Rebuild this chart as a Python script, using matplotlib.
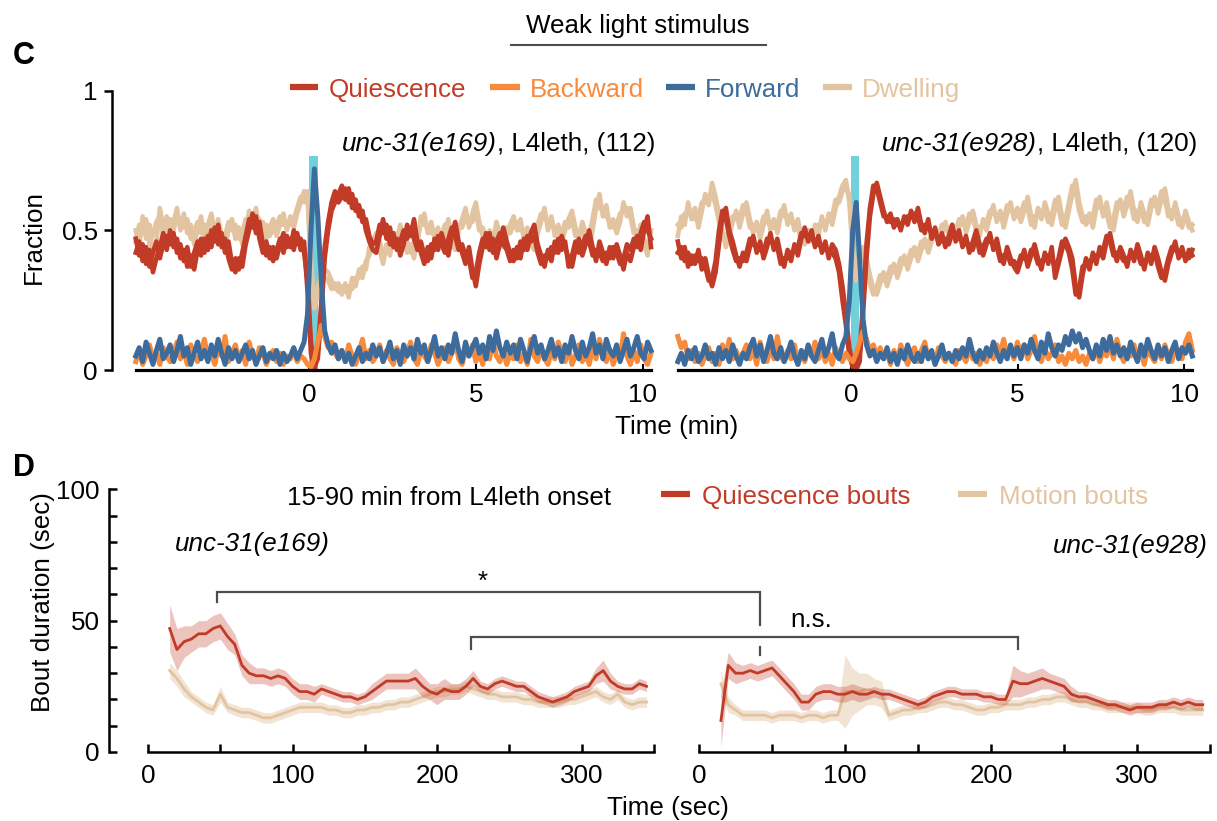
import numpy as np
import matplotlib
matplotlib.use("Agg")
import matplotlib.pyplot as plt
from matplotlib.lines import Line2D

plt.rcParams['font.family'] = ['Liberation Sans', 'DejaVu Sans']
FS = 18.7
W, H = 1217, 821

RED = '#c13b27'
ORANGE = '#f78a3b'
BLUE = '#3c6b9c'
TAN = '#e3c4a1'
CYAN = '#70d0dc'
GRAY = '#4d4d4d'

# ---------------- Panel C data (percent of animals in each state) ----------------
t_start_min, t_end_min, n_samples = -5.2, 10.25, 151
stim_on_min, stim_off_min = 0.0, 0.25
time_min = np.linspace(t_start_min, t_end_min, n_samples)

quies_e169 = [
    47, 41, 45, 38, 43, 35, 40, 44, 49, 43,
    50, 44, 47, 40, 43, 37, 41, 36, 43, 47,
    42, 48, 44, 51, 45, 49, 42, 46, 38, 35,
    40, 37, 45, 50, 56, 49, 53, 45, 41, 44,
    39, 43, 47, 42, 48, 44, 50, 45, 47, 42,
    32, 10, 1, 4, 20, 40, 50, 57, 60, 63,
    66, 61, 65, 58, 61, 55, 57, 50, 46, 43,
    42, 48, 54, 47, 51, 44, 47, 41, 45, 52,
    48, 54, 46, 42, 38, 44, 40, 47, 43, 49,
    45, 41, 48, 53, 46, 42, 38, 44, 36, 30,
    38, 44, 49, 43, 47, 40, 45, 51, 46, 42,
    39, 44, 40, 47, 43, 49, 52, 45, 41, 37,
    43, 39, 46, 42, 48, 44, 40, 37, 43, 47,
    41, 45, 50, 44, 39, 46, 42, 38, 44, 40,
    45, 41, 36, 42, 39, 44, 48, 43, 50, 55,
    44]
quies_e169_rep2 = [
    42, 46, 39, 44, 37, 42, 46, 40, 45, 48,
    45, 49, 42, 45, 39, 44, 37, 42, 46, 41,
    47, 43, 50, 46, 52, 44, 47, 40, 36, 40,
    36, 42, 48, 54, 51, 55, 47, 42, 46, 40,
    44, 40, 45, 49, 44, 47, 43, 49, 43, 46,
    28, 6, 0, 7, 24, 44, 53, 60, 64, 60,
    62, 65, 60, 63, 57, 59, 53, 54, 48, 45,
    46, 52, 49, 52, 45, 49, 43, 46, 50, 47,
    51, 47, 43, 46, 41, 39, 45, 43, 48, 45,
    42, 47, 51, 48, 43, 45, 41, 40, 33, 35,
    42, 47, 44, 49, 42, 46, 49, 45, 43, 39,
    43, 40, 46, 43, 48, 46, 48, 42, 38, 41,
    40, 44, 42, 47, 43, 46, 37, 41, 46, 42,
    45, 48, 46, 41, 43, 42, 39, 42, 40, 44,
    42, 38, 40, 45, 43, 47, 44, 49, 53, 50,
    47]
dwell_e169 = [
    50, 44, 55, 47, 52, 40, 46, 58, 51, 55,
    48, 53, 58, 50, 56, 49, 52, 45, 50, 55,
    47, 52, 56, 49, 54, 48, 44, 50, 54, 47,
    51, 45, 50, 57, 52, 58, 50, 53, 47, 51,
    54, 48, 52, 56, 50, 55, 51, 56, 60, 64,
    62, 36, 24, 30, 34, 36, 35, 32, 29, 31,
    27, 31, 26, 33, 30, 36, 33, 39, 41, 46,
    49, 43, 38, 45, 41, 48, 46, 52, 47, 42,
    45, 40, 48, 52, 56, 49, 53, 47, 51, 45,
    49, 54, 47, 43, 50, 54, 58, 51, 56, 60,
    53, 48, 44, 50, 46, 53, 49, 44, 48, 52,
    55, 50, 54, 47, 51, 45, 43, 49, 53, 58,
    50, 55, 48, 52, 46, 50, 54, 57, 51, 47,
    53, 49, 45, 50, 58, 63, 55, 59, 51, 54,
    49, 53, 60, 55, 58, 51, 47, 52, 45, 41,
    50]
dwell_e169_rep2 = [
    46, 52, 49, 54, 45, 49, 53, 55, 48, 52,
    54, 50, 55, 53, 51, 54, 47, 50, 53, 49,
    52, 49, 53, 52, 50, 45, 48, 53, 50, 52,
    47, 49, 54, 53, 56, 53, 54, 49, 52, 48,
    50, 52, 55, 52, 53, 52, 54, 58, 62, 60,
    64, 40, 22, 27, 36, 33, 32, 29, 31, 28,
    30, 28, 30, 29, 33, 33, 37, 36, 44, 43,
    45, 46, 42, 42, 45, 44, 49, 48, 44, 46,
    42, 46, 44, 55, 52, 51, 49, 50, 48, 48,
    52, 50, 44, 47, 52, 51, 55, 54, 53, 57,
    50, 51, 47, 47, 49, 50, 46, 47, 51, 49,
    52, 53, 50, 50, 48, 47, 46, 52, 56, 55,
    53, 52, 51, 49, 49, 53, 51, 54, 48, 50,
    50, 46, 48, 54, 61, 58, 57, 55, 53, 51,
    52, 56, 57, 58, 55, 49, 50, 48, 47, 44,
    47]
fwd_e169 = [
    5, 8, 3, 10, 6, 2, 7, 11, 4, 6,
    9, 3, 7, 12, 5, 8, 2, 6, 10, 4,
    7, 3, 9, 5, 11, 6, 2, 8, 4, 7,
    3, 6, 9, 4, 7, 2, 5, 8, 3, 6,
    4, 7, 2, 6, 3, 5, 8, 4, 7, 10,
    20, 50, 72, 55, 32, 14, 9, 6, 9, 4,
    7, 3, 6, 2, 5, 8, 3, 6, 4, 9,
    5, 8, 3, 6, 10, 4, 7, 2, 9, 5,
    8, 4, 11, 6, 9, 3, 7, 12, 5, 8,
    4, 9, 6, 13, 7, 3, 10, 5, 8, 11,
    6, 9, 4, 12, 7, 14, 8, 5, 10, 6,
    9, 4, 11, 7, 3, 8, 12, 6, 9, 4,
    7, 11, 5, 8, 3, 9, 6, 12, 7, 4,
    10, 5, 8, 13, 6, 9, 4, 11, 7, 5,
    9, 3, 7, 11, 5, 8, 12, 6, 4, 10,
    7]
bwd_e169 = [
    3, 7, 2, 5, 9, 4, 6, 2, 8, 5,
    3, 6, 10, 4, 7, 2, 9, 5, 3, 7,
    11, 4, 6, 2, 8, 5, 12, 3, 6, 9,
    4, 7, 2, 10, 5, 3, 8, 6, 2, 5,
    7, 3, 6, 2, 5, 4, 7, 3, 5, 4,
    2, 1, 4, 10, 16, 12, 8, 10, 6, 4,
    7, 3, 9, 5, 2, 6, 11, 4, 7, 3,
    5, 9, 3, 7, 4, 2, 8, 5, 3, 6,
    10, 4, 2, 7, 5, 3, 9, 6, 2, 5,
    8, 3, 6, 11, 4, 2, 7, 5, 9, 3,
    6, 2, 8, 4, 10, 5, 3, 7, 2, 6,
    4, 9, 3, 6, 2, 11, 5, 3, 8, 4,
    2, 7, 4, 10, 6, 3, 8, 2, 5, 9,
    3, 6, 2, 8, 4, 11, 5, 3, 7, 2,
    6, 4, 13, 5, 2, 7, 3, 9, 4, 2,
    6]

quies_e928 = [
    46, 40, 44, 37, 41, 38, 43, 36, 40, 34,
    30, 35, 45, 55, 58, 50, 46, 41, 37, 42,
    39, 44, 48, 42, 46, 40, 44, 49, 43, 47,
    41, 37, 43, 39, 45, 41, 47, 51, 46, 50,
    44, 48, 42, 46, 40, 45, 43, 38, 30, 20,
    8, 2, 0, 3, 20, 40, 55, 63, 67, 62,
    57, 53, 56, 51, 54, 50, 55, 52, 57, 53,
    58, 52, 49, 54, 47, 51, 45, 49, 44, 48,
    52, 46, 50, 44, 48, 42, 46, 50, 45, 41,
    45, 49, 43, 47, 41, 38, 44, 40, 37, 35,
    39, 43, 37, 41, 45, 40, 36, 42, 38, 44,
    33, 38, 43, 47, 44, 40, 30, 26, 34, 40,
    36, 42, 38, 44, 40, 46, 49, 43, 39, 44,
    41, 37, 43, 39, 45, 41, 36, 42, 38, 44,
    40, 35, 32, 38, 42, 46, 40, 44, 39, 43,
    41]
quies_e928_rep2 = [
    42, 44, 39, 42, 38, 41, 39, 40, 37, 32,
    33, 39, 50, 57, 54, 48, 43, 39, 40, 39,
    42, 47, 45, 44, 43, 42, 47, 46, 45, 44,
    38, 40, 40, 42, 43, 44, 49, 48, 48, 47,
    46, 45, 44, 43, 43, 42, 40, 35, 25, 16,
    5, 1, 1, 6, 24, 45, 58, 66, 65, 60,
    55, 55, 53, 54, 52, 52, 53, 55, 55, 56,
    55, 50, 52, 51, 49, 48, 47, 46, 47, 45,
    49, 49, 47, 46, 45, 45, 43, 48, 42, 44,
    47, 46, 45, 44, 39, 41, 42, 38, 39, 37,
    41, 40, 39, 43, 42, 38, 39, 40, 41, 41,
    36, 40, 46, 45, 42, 36, 27, 29, 37, 38,
    39, 40, 41, 41, 43, 48, 46, 41, 42, 41,
    39, 40, 41, 42, 42, 38, 39, 40, 41, 42,
    37, 33, 35, 40, 44, 43, 42, 41, 41, 40,
    43]
dwell_e928 = [
    48, 55, 52, 60, 54, 58, 51, 57, 63, 59,
    67, 62, 56, 50, 44, 48, 53, 57, 51, 56,
    60, 54, 49, 53, 47, 52, 57, 50, 54, 49,
    55, 59, 52, 56, 50, 54, 48, 45, 50, 46,
    52, 48, 55, 50, 56, 52, 58, 62, 66, 68,
    60, 42, 32, 40, 44, 40, 34, 29, 27, 31,
    35, 30, 34, 38, 33, 37, 41, 36, 40, 44,
    39, 43, 47, 42, 46, 50, 45, 49, 53, 48,
    52, 47, 51, 55, 49, 53, 57, 52, 48, 54,
    50, 55, 59, 53, 57, 51, 56, 60, 54, 58,
    53, 57, 62, 55, 51, 58, 54, 60, 56, 52,
    58, 62, 55, 51, 57, 63, 68, 60, 55, 52,
    56, 51, 58, 62, 55, 60, 54, 50, 57, 61,
    55, 59, 64, 57, 53, 60, 56, 52, 58, 62,
    56, 61, 65, 58, 54, 60, 55, 51, 57, 53,
    50]
dwell_e928_rep2 = [
    52, 51, 56, 56, 57, 54, 55, 60, 60, 62,
    64, 59, 53, 47, 47, 51, 55, 54, 54, 59,
    57, 51, 52, 50, 50, 55, 53, 52, 51, 52,
    57, 55, 55, 53, 52, 51, 46, 48, 48, 49,
    50, 52, 52, 53, 54, 55, 61, 60, 64, 65,
    63, 45, 34, 38, 41, 37, 31, 27, 30, 34,
    32, 33, 37, 35, 36, 40, 38, 39, 43, 41,
    42, 46, 44, 45, 49, 47, 48, 52, 50, 51,
    49, 50, 54, 52, 52, 56, 54, 50, 51, 52,
    53, 57, 56, 55, 54, 54, 59, 57, 57, 55,
    56, 60, 58, 52, 55, 56, 57, 57, 53, 55,
    61, 58, 52, 54, 60, 66, 64, 57, 53, 55,
    53, 55, 61, 58, 58, 56, 51, 54, 60, 58,
    58, 62, 60, 54, 57, 58, 53, 55, 61, 59,
    59, 64, 61, 55, 57, 57, 52, 54, 55, 51,
    52]
fwd_e928 = [
    3, 6, 2, 7, 4, 8, 3, 5, 9, 4,
    6, 2, 8, 4, 7, 3, 9, 5, 2, 6,
    4, 8, 11, 5, 9, 3, 7, 12, 6, 4,
    8, 3, 6, 10, 5, 2, 7, 4, 9, 5,
    3, 7, 11, 5, 8, 13, 6, 4, 9, 12,
    25, 50, 60, 40, 18, 9, 5, 7, 3, 6,
    4, 8, 3, 6, 2, 7, 4, 9, 5, 3,
    6, 3, 8, 4, 7, 2, 5, 9, 4, 6,
    3, 7, 4, 8, 5, 11, 6, 3, 7, 4,
    8, 5, 10, 6, 3, 7, 4, 9, 5, 8,
    4, 9, 6, 11, 7, 4, 10, 6, 13, 8,
    5, 9, 7, 12, 9, 14, 10, 13, 8, 11,
    7, 4, 9, 5, 11, 7, 12, 6, 9, 5,
    8, 4, 10, 6, 3, 9, 5, 11, 7, 4,
    9, 5, 8, 3, 7, 10, 4, 8, 6, 9,
    5]
bwd_e928 = [
    12, 8, 10, 4, 7, 3, 6, 2, 5, 8,
    3, 6, 2, 9, 5, 11, 4, 7, 3, 6,
    9, 4, 7, 2, 10, 5, 3, 8, 4, 12,
    5, 3, 7, 4, 9, 2, 6, 3, 8, 5,
    10, 4, 7, 3, 6, 2, 8, 5, 3, 6,
    4, 3, 6, 10, 14, 11, 7, 9, 5, 8,
    4, 6, 2, 7, 3, 9, 5, 2, 6, 8,
    3, 7, 10, 4, 6, 2, 8, 5, 3, 6,
    4, 2, 7, 5, 3, 8, 4, 6, 2, 5,
    3, 7, 4, 9, 6, 11, 5, 8, 4, 10,
    6, 9, 4, 7, 12, 5, 3, 8, 4, 6,
    9, 3, 5, 2, 6, 4, 7, 3, 5, 2,
    6, 4, 8, 3, 7, 5, 9, 4, 11, 6,
    3, 7, 5, 9, 4, 6, 2, 8, 5, 3,
    7, 4, 9, 5, 3, 8, 6, 4, 10, 13,
    7]

# ---------------- Panel D data (bout duration, sec) ----------------
bout_time_s = np.arange(15, 346, 5)

qbout_e169 = [47, 39, 42, 43, 45, 45, 47, 48, 44, 41,
              33, 30, 29, 29, 28, 29, 28, 25, 23, 23,
              22, 24, 23, 22, 21, 21, 20, 21, 23, 25,
              27, 27, 27, 27, 28, 25, 23, 22, 24, 23,
              23, 25, 28, 25, 24, 26, 27, 26, 25, 25,
              23, 21, 20, 19, 20, 21, 23, 24, 25, 29,
              31, 27, 25, 24, 24, 26, 25]
qbout_sem_e169 = [9, 8, 6, 5, 5, 5, 5, 5, 5, 4,
                  4, 4, 3, 3, 3, 3, 3, 3, 3, 3,
                  3, 2, 2, 2, 2, 2, 2, 2, 3, 3,
                  3, 3, 3, 3, 4, 4, 3, 4, 4, 3,
                  3, 3, 3, 2, 2, 2, 2, 2, 2, 2,
                  2, 2, 2, 2, 2, 2, 2, 2, 2, 3,
                  4, 3, 2, 2, 2, 2, 2]
mbout_e169 = [31, 28, 24, 21, 19, 17, 16, 22, 17, 16,
              15, 15, 14, 13, 13, 14, 15, 16, 17, 17,
              17, 17, 16, 16, 15, 15, 16, 16, 17, 17,
              18, 18, 19, 19, 20, 21, 22, 23, 23, 24,
              24, 25, 24, 23, 22, 22, 21, 21, 21, 20,
              20, 19, 19, 19, 19, 20, 20, 21, 22, 23,
              21, 20, 22, 19, 18, 19, 19]
mbout_sem_e169 = [3, 3, 3, 2, 2, 2, 2, 3, 2, 2,
                  2, 2, 2, 2, 2, 2, 2, 2, 2, 2,
                  2, 2, 2, 2, 2, 2, 2, 2, 2, 2,
                  2, 2, 2, 2, 2, 2, 2, 2, 2, 2,
                  2, 2, 2, 2, 2, 2, 2, 2, 2, 2,
                  2, 2, 2, 2, 2, 2, 2, 2, 2, 2,
                  2, 2, 2, 2, 2, 2, 2]

qbout_e928 = [12, 33, 30, 30, 31, 30, 31, 32, 29, 26,
              23, 19, 19, 22, 23, 23, 22, 22, 23, 22,
              22, 23, 22, 22, 21, 20, 19, 18, 19, 21,
              22, 23, 23, 22, 22, 22, 21, 21, 20, 20,
              27, 26, 26, 27, 28, 27, 26, 25, 22, 21,
              21, 20, 19, 18, 18, 17, 16, 17, 17, 17,
              18, 18, 19, 18, 19, 18, 18]
qbout_sem_e928 = [10, 5, 4, 3, 3, 3, 3, 3, 3, 3,
                  3, 3, 3, 3, 3, 3, 3, 3, 3, 3,
                  2, 2, 2, 2, 2, 2, 2, 2, 2, 2,
                  2, 2, 2, 2, 2, 2, 2, 2, 2, 2,
                  6, 5, 4, 4, 4, 3, 3, 3, 3, 2,
                  2, 2, 2, 2, 2, 2, 2, 2, 2, 2,
                  2, 2, 2, 2, 2, 2, 2]
mbout_e928 = [26, 18, 16, 14, 14, 14, 14, 13, 14, 14,
              14, 13, 14, 14, 13, 14, 14, 23, 23, 23,
              24, 23, 22, 14, 15, 16, 16, 17, 17, 18,
              19, 19, 18, 18, 17, 16, 16, 17, 17, 18,
              18, 18, 19, 19, 20, 20, 21, 21, 20, 19,
              19, 18, 18, 17, 17, 17, 17, 17, 16, 16,
              17, 17, 17, 16, 16, 16, 16]
mbout_sem_e928 = [5, 3, 2, 2, 2, 2, 2, 2, 2, 2,
                  2, 2, 2, 2, 2, 2, 2, 14, 9, 7,
                  6, 5, 5, 2, 2, 2, 2, 2, 2, 2,
                  2, 2, 2, 2, 2, 2, 2, 2, 2, 2,
                  2, 2, 2, 2, 2, 2, 2, 2, 2, 2,
                  2, 2, 2, 2, 2, 2, 2, 2, 2, 2,
                  2, 2, 2, 2, 2, 2, 2]

# ---------------- figure ----------------
fig = plt.figure(figsize=(W / 100, H / 100), dpi=100)


def fx(px):
    return px / W


def fy(py):
    return 1 - py / H


def axes_px(left, top, right, bottom):
    return fig.add_axes([fx(left), fy(bottom), (right - left) / W, (bottom - top) / H])


def rich_text(x_px, y_px, parts, ha='left', va='center_baseline', size=FS):
    renderer = fig.canvas.get_renderer()
    arts = [fig.text(0, 0, s, fontsize=size, style=st, color=col, ha='left', va=va)
            for s, st, col in parts]
    widths = [a.get_window_extent(renderer).width for a in arts]
    x0 = x_px if ha == 'left' else x_px - sum(widths)
    for a, w in zip(arts, widths):
        a.set_position((fx(x0), fy(y_px)))
        x0 += w


def legend_item(x0, x1, xt, y, color, label):
    fig.add_artist(Line2D([fx(x0), fx(x1)], [fy(y), fy(y)], color=color, lw=4.5,
                          solid_capstyle='butt'))
    fig.text(fx(xt), fy(y), label, color=color, fontsize=FS, ha='left', va='center_baseline')


# ---- Panel C axes ----
yb_C = -4 / 279.3
axC1 = axes_px(111.6, 90.7, 656, 374)
axC1.set_xlim(-5.925, 10.4)
axC2 = axes_px(675, 90.7, 1200, 374)
axC2.set_xlim(-5.285, 10.48)

MAIN_LW = 3.3
LOW_LW = 3.6
panels_C = [(axC1, [quies_e169, quies_e169_rep2], bwd_e169, fwd_e169,
             [dwell_e169, dwell_e169_rep2]),
            (axC2, [quies_e928, quies_e928_rep2], bwd_e928, fwd_e928,
             [dwell_e928, dwell_e928_rep2])]
for ax, Qs, B, F, Ds in panels_C:
    ax.set_ylim(yb_C, 1.0)
    ax.fill_between([stim_on_min, stim_off_min], 0, 0.766, color=CYAN, lw=0, zorder=1)
    for D in Ds:
        ax.plot(time_min, np.array(D) / 100, color=TAN, lw=MAIN_LW, zorder=2,
                solid_joinstyle='round')
    for Q in Qs:
        ax.plot(time_min, np.array(Q) / 100, color=RED, lw=MAIN_LW, zorder=3,
                solid_joinstyle='round')
    ax.plot(time_min, np.array(B) / 100, color=ORANGE, lw=LOW_LW, zorder=4,
            solid_joinstyle='round')
    ax.plot(time_min, np.array(F) / 100, color=BLUE, lw=LOW_LW, zorder=5,
            solid_joinstyle='round')
    for s in ['top', 'right']:
        ax.spines[s].set_visible(False)
    ax.spines['bottom'].set_position(('data', 0))
    ax.spines['bottom'].set_bounds(t_start_min, t_end_min)
    ax.spines['bottom'].set_linewidth(2.3)
    ax.spines['bottom'].set_zorder(6)
    ax.set_xticks([0, 5, 10])
    ax.set_xticklabels(['0', '5', '10'])
    ax.tick_params(axis='x', direction='in', length=4, width=1.5, pad=9, labelsize=FS)
    ax.patch.set_alpha(0)

axC1.spines['left'].set_bounds(0, 1)
axC1.spines['left'].set_linewidth(1.8)
axC1.set_yticks([0, 0.5, 1])
axC1.set_yticklabels(['0', '0.5', '1'])
axC1.tick_params(axis='y', direction='out', length=6, width=1.8, pad=4, labelsize=FS)
axC2.spines['left'].set_visible(False)
axC2.set_yticks([])

# ---- Panel D axes ----
D_top, D_bot = 489.3, 752 + 2.624
axD1 = axes_px(109, D_top, 662, D_bot)
axD1.set_xlim(-27.0, 355.7)
axD2 = axes_px(690, D_top, 1214, D_bot)
axD2.set_xlim(-6.2, 352.7)

panels_D = [(axD1, qbout_e169, qbout_sem_e169, mbout_e169, mbout_sem_e169),
            (axD2, qbout_e928, qbout_sem_e928, mbout_e928, mbout_sem_e928)]
for ax, q, qs, m, ms in panels_D:
    ax.set_ylim(-1, 100)
    q = np.array(q, float); qs = np.array(qs, float)
    m = np.array(m, float); ms = np.array(ms, float)
    ax.fill_between(bout_time_s, m - ms, m + ms, color=TAN, alpha=0.45, lw=0, zorder=1)
    ax.plot(bout_time_s, m, color=TAN, lw=2.0, zorder=2)
    ax.fill_between(bout_time_s, q - qs, q + qs, color=RED, alpha=0.3, lw=0, zorder=3)
    ax.plot(bout_time_s, q, color=RED, lw=2.0, zorder=4)
    for s in ['top', 'right']:
        ax.spines[s].set_visible(False)
    ax.spines['bottom'].set_position(('data', 0))
    ax.spines['bottom'].set_bounds(0, 350)
    ax.spines['bottom'].set_linewidth(1.8)
    ax.set_xticks([0, 100, 200, 300])
    ax.set_xticks([50, 150, 250, 350], minor=True)
    ax.tick_params(axis='x', which='both', direction='in', length=6, width=1.8, pad=8.5,
                   labelsize=FS)
    ax.patch.set_alpha(0)

axD1.spines['left'].set_bounds(0, 100)
axD1.spines['left'].set_linewidth(1.8)
axD1.set_yticks([0, 50, 100])
axD1.set_yticks(np.arange(10, 100, 10), minor=True)
axD1.tick_params(axis='y', which='both', direction='in', length=6, width=1.8, pad=6.5,
                 labelsize=FS)
axD2.spines['left'].set_visible(False)
axD2.set_yticks([])

# ---- texts, panel C ----
fig.text(fx(637.5), fy(23.3), 'Weak light stimulus', fontsize=FS, ha='center',
         va='center_baseline')
fig.add_artist(Line2D([fx(511), fx(766)], [fy(45), fy(45)], color=GRAY, lw=1.5))
fig.text(fx(13), fy(52.5), 'C', fontsize=22, fontweight='bold', ha='left', va='center_baseline')
legend_item(290, 318, 329, 87.5, RED, 'Quiescence')
legend_item(490, 520, 530, 87.5, ORANGE, 'Backward')
legend_item(666, 695, 705, 87.5, BLUE, 'Forward')
legend_item(823, 852, 862, 87.5, TAN, 'Dwelling')
rich_text(655, 142, [('unc-31(e169)', 'italic', 'black'), (', L4leth, (112)', 'normal', 'black')],
          ha='right')
rich_text(1197, 142, [('unc-31(e928)', 'italic', 'black'), (', L4leth, (120)', 'normal', 'black')],
          ha='right')
fig.text(fx(677), fy(424), 'Time (min)', fontsize=FS, ha='center', va='center_baseline')
fig.text(fx(34), fy(237), 'Fraction', fontsize=FS, rotation=90, ha='center', va='center')

# ---- texts, panel D ----
fig.text(fx(13), fy(464), 'D', fontsize=22, fontweight='bold', ha='left', va='center_baseline')
fig.text(fx(287), fy(495), '15-90 min from L4leth onset', fontsize=FS, ha='left',
         va='center_baseline')
legend_item(661, 690, 702, 494, RED, 'Quiescence bouts')
legend_item(958, 987, 999, 494, TAN, 'Motion bouts')
fig.text(fx(175), fy(542), 'unc-31(e169)', fontsize=FS, style='italic', ha='left',
         va='center_baseline')
fig.text(fx(1208), fy(543), 'unc-31(e928)', fontsize=FS, style='italic', ha='right',
         va='center_baseline')
fig.text(fx(668), fy(805), 'Time (sec)', fontsize=FS, ha='center', va='center_baseline')
fig.text(fx(43), fy(602), 'Bout duration (sec)', fontsize=FS, rotation=90, ha='center',
         va='center')

# ---- significance brackets (comparison positions in each panel's data units) ----
star_left_s, star_right_s = 47.8, 41.8
ns_left_s, ns_right_s = 223.5, 218.5


def to_fig(ax, x, y):
    return fig.transFigure.inverted().transform(ax.transData.transform((x, y)))


def bracket(points, lw=1.6):
    pts = [to_fig(ax, x, y) for ax, x, y in points]
    xs = [p[0] for p in pts]
    ys = [p[1] for p in pts]
    fig.add_artist(Line2D(xs, ys, color=GRAY, lw=lw, solid_joinstyle='miter'))


bracket([(axD1, star_left_s, 57.1), (axD1, star_left_s, 60.9),
         (axD2, star_right_s, 60.9), (axD2, star_right_s, 48.3)])
bracket([(axD2, star_right_s, 39.9), (axD2, star_right_s, 36.9)])
bracket([(axD1, ns_left_s, 39.2), (axD1, ns_left_s, 43.8),
         (axD2, ns_right_s, 43.8), (axD2, ns_right_s, 39.2)])
fig.text(fx(483), fy(589), '*', fontsize=FS, ha='center', va='baseline')
fig.text(fx(811), fy(627), 'n.s.', fontsize=FS, ha='center', va='baseline')

fig.savefig('out.png', dpi=100)
